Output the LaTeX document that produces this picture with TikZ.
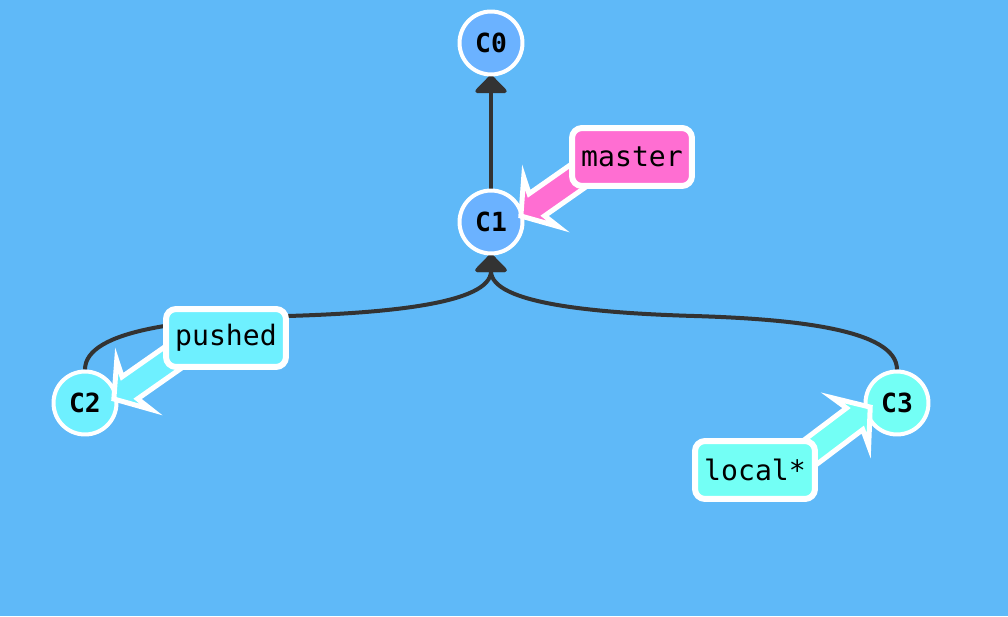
\documentclass[tikz,border=0pt]{standalone}
\usepackage{fontspec}
\setmonofont{DejaVu Sans Mono}
\usetikzlibrary{arrows.meta}
\pgfdeclarelayer{bg}
\pgfdeclarelayer{links}
\pgfdeclarelayer{front}
\pgfsetlayers{bg,links,main,front}
\definecolor{bgblue}{RGB}{95,185,248}
\definecolor{commitblue}{RGB}{107,178,255}
\definecolor{pushcyan}{RGB}{110,240,255}
\definecolor{localcyan}{RGB}{115,255,245}
\definecolor{masterpink}{RGB}{255,110,210}
\definecolor{edgegray}{RGB}{51,51,51}
\tikzset{
  commit/.style={circle, draw=white, line width=0.08cm, minimum size=1.26cm, inner sep=0pt,
    font=\fontsize{15}{17}\selectfont\ttfamily\bfseries},
  branch/.style={rectangle, rounded corners=0.2cm, draw=white, line width=0.12cm,
    minimum width=2.4cm, minimum height=1.16cm, inner sep=0pt,
    font=\fontsize{16}{18}\selectfont\ttfamily},
  parent/.style={draw=edgegray, line width=0.08cm,
    -{Triangle[length=0.38cm, width=0.72cm, round]}, shorten >=-0.03cm},
  pointer/.style={draw=white, line width=0.1cm, miter limit=10}
}
\begin{document}
\begin{tikzpicture}[x=0.02cm, y=0.02cm, line join=round]
  \begin{pgfonlayer}{bg}
    \fill[bgblue] (0,0) rectangle (1008,616);
  \end{pgfonlayer}
  % commits
  \node[commit, fill=commitblue] (C0) at (491,573) {C0};
  \node[commit, fill=commitblue] (C1) at (491,394) {C1};
  \node[commit, fill=pushcyan] (C2) at (85,213) {C2};
  \node[commit, fill=localcyan] (C3) at (897,213) {C3};
  % branches
  \begin{pgfonlayer}{front}
    \node[branch, fill=masterpink] (master) at (632,459) {master};
    \node[branch, fill=pushcyan] (pushed) at (226,278) {pushed};
    \node[branch, fill=localcyan] (local) at (755,146) {local*};
  \end{pgfonlayer}
  \coordinate (midL) at (288,300);
  \coordinate (midR) at (694,300);
  \begin{pgfonlayer}{links}
    \draw[parent] (C1) -- (C0);
    \draw[parent] (C2.north) .. controls +(0,40) and +(-100,-3) .. (midL)
      .. controls +(100,3) and +(0,-48) .. (C1.south);
    \draw[parent] (C3.north) .. controls +(0,40) and +(100,-3) .. (midR)
      .. controls +(-100,3) and +(0,-48) .. (C1.south);
  \end{pgfonlayer}
  % branch pointers, tail runs under the label
  \foreach \c/\tx/\ty/\ang/\col in {C1/27/4/35/masterpink, C2/26/2/35/pushcyan, C3/-24/-2/217/localcyan}
    \draw[pointer, fill=\col, line join=miter, shift={(\c)}, shift={(\tx,\ty)}, rotate=\ang]
      (3.5,0) -- (28,30) -- (23,13.5) -- (110,13.5) -- (110,-13.5) -- (23,-13.5) -- (28,-30) -- cycle;
\end{tikzpicture}
\end{document}
